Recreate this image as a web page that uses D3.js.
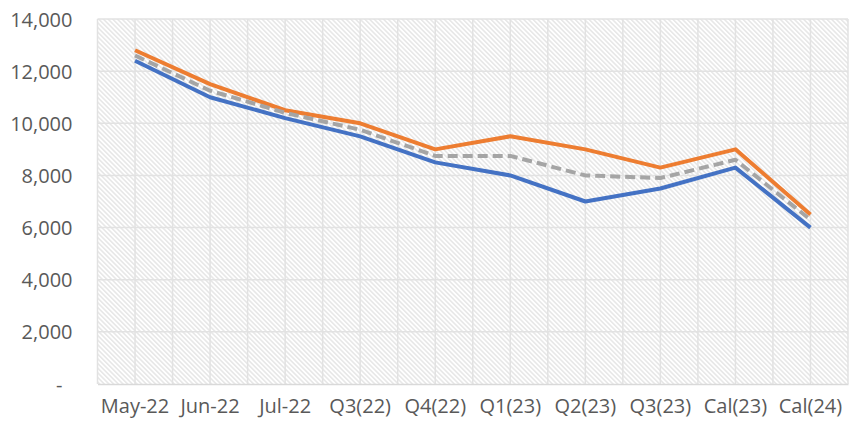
<!DOCTYPE html>
<html>
<head>
<meta charset="utf-8">
<script src="https://cdn.jsdelivr.net/npm/d3@7"></script>
<style>
  body { margin: 0; background: #fff; }
  .tick text { font-family: "Open Sans", sans-serif; fill: #595959; }
</style>
</head>
<body>
<div id="chart"></div>
<script>
const categories = ["May-22", "Jun-22", "Jul-22", "Q3(22)", "Q4(22)", "Q1(23)", "Q2(23)", "Q3(23)", "Cal(23)", "Cal(24)"]
const highValues = [12800, 11500, 10500, 10000, 9000, 9500, 9000, 8300, 9000, 6500]
const midValues = [12600, 11250, 10400, 9750, 8750, 8750, 8000, 7900, 8600, 6300]
const lowValues = [12400, 11000, 10200, 9500, 8500, 8000, 7000, 7500, 8300, 6000]
const yTicks = [0, 2000, 4000, 6000, 8000, 10000, 12000, 14000]

const width = 853
const height = 426
const margin = { top: 19, right: 5, bottom: 42, left: 97.5 }
const boundedWidth = width - margin.left - margin.right
const boundedHeight = height - margin.top - margin.bottom

const svg = d3.select("#chart").append("svg")
    .attr("width", width)
    .attr("height", height)

// hatch fill for the plot area
const defs = svg.append("defs")
defs.append("pattern")
    .attr("id", "hatch")
    .attr("patternUnits", "userSpaceOnUse")
    .attr("width", 3.3)
    .attr("height", 10)
    .attr("patternTransform", "rotate(-45)")
  .append("line")
    .attr("x1", 0.8).attr("x2", 0.8)
    .attr("y1", 0).attr("y2", 10)
    .attr("stroke", "#e0e0e0")
    .attr("stroke-width", 1.2)

const bounds = svg.append("g")
    .attr("transform", `translate(${margin.left},${margin.top})`)

const xScale = d3.scaleBand()
    .domain(categories)
    .range([0, boundedWidth])

const yScale = d3.scaleLinear()
    .domain([0, 14000])
    .range([boundedHeight, 0])

bounds.append("rect")
    .attr("width", boundedWidth)
    .attr("height", boundedHeight)
    .attr("fill", "url(#hatch)")

// gridlines
const halfSteps = []
categories.forEach(c => {
  halfSteps.push(xScale(c))
  halfSteps.push(xScale(c) + xScale.bandwidth() / 2)
})
halfSteps.push(boundedWidth)

bounds.append("g")
  .selectAll("line")
  .data(halfSteps)
  .join("line")
    .attr("x1", d => d).attr("x2", d => d)
    .attr("y1", 0).attr("y2", boundedHeight)
    .attr("stroke", "#e2e2e2")
    .attr("stroke-width", 1.5)

bounds.append("g")
  .selectAll("line")
  .data(yTicks.filter(d => d > 0))
  .join("line")
    .attr("x1", 0).attr("x2", boundedWidth)
    .attr("y1", d => yScale(d)).attr("y2", d => yScale(d))
    .attr("stroke", "#e2e2e2")
    .attr("stroke-width", 1.5)

// axes
const yAxis = bounds.append("g")
    .call(d3.axisLeft(yScale)
      .tickValues(yTicks)
      .tickSize(0)
      .tickPadding(25)
      .tickFormat(d => d === 0 ? "-" : d3.format(",")(d)))
yAxis.select(".domain").remove()
yAxis.selectAll("text")
    .style("font-size", "20px")
    .attr("dx", d => d === 0 ? -10 : 0)
    .attr("dy", "0.35em")

const xAxis = bounds.append("g")
    .attr("transform", `translate(0,${boundedHeight})`)
    .call(d3.axisBottom(xScale).tickSize(0).tickPadding(15))
xAxis.select(".domain")
    .attr("stroke", "#d9d9d9")
    .attr("stroke-width", 1.5)
xAxis.selectAll("text")
    .style("font-size", "20px")

// series
const lineGenerator = d3.line()
    .x((d, i) => xScale(categories[i]) + xScale.bandwidth() / 2)
    .y(d => yScale(d))

const series = [
  { values: lowValues, color: "#4472c4", dash: null },
  { values: highValues, color: "#ed7d31", dash: null },
  { values: midValues, color: "#a5a5a5", dash: "10,5" },
]

bounds.append("g")
  .selectAll("path")
  .data(series)
  .join("path")
    .attr("d", d => lineGenerator(d.values))
    .attr("fill", "none")
    .attr("stroke", d => d.color)
    .attr("stroke-width", 4)
    .attr("stroke-linejoin", "round")
    .attr("stroke-dasharray", d => d.dash)
</script>
</body>
</html>
